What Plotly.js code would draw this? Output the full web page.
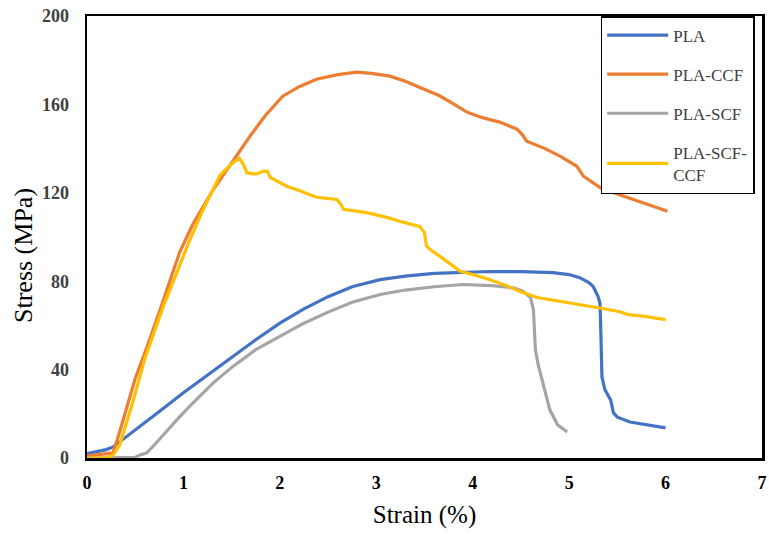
<!DOCTYPE html>
<html>
<head>
<meta charset="utf-8">
<script src="https://cdn.plot.ly/plotly-3.0.1.min.js"></script>
<style>html,body{margin:0;padding:0;background:#fff;}#chart{width:769px;height:534px;}</style>
</head>
<body>
<div id="chart"></div>
<script>
// ---- data (strain %, stress MPa) ----
const seriesNames = ["PLA", "PLA-CCF", "PLA-SCF", "PLA-SCF-<br>CCF"];
const seriesColors = ["#4472C4", "#ED7D31", "#A5A5A5", "#FFC000"];

const plaX = [0, 0.1, 0.2, 0.27, 0.5, 0.75, 1.0, 1.25, 1.5, 1.75, 2.0, 2.25, 2.5, 2.75, 3.04, 3.3, 3.6, 3.9, 4.18, 4.5, 4.83, 5.0, 5.11, 5.2, 5.25, 5.3, 5.32, 5.33, 5.34, 5.37, 5.43, 5.46, 5.5, 5.63, 5.8, 6.0];
const plaY = [2, 2.8, 3.8, 5, 12.5, 21, 29.5, 37.5, 45.5, 53.5, 61, 67.5, 73, 77.5, 80.7, 82.3, 83.5, 84, 84.4, 84.3, 83.9, 83, 81.6, 79.5, 77.6, 73, 70, 55, 36.7, 31, 26.3, 20.4, 18.5, 16.3, 15, 13.6];

const ccfX = [0, 0.1, 0.2, 0.27, 0.34, 0.41, 0.5, 0.62, 0.75, 0.96, 1.1, 1.31, 1.52, 1.69, 1.85, 2.03, 2.2, 2.38, 2.6, 2.8, 2.95, 3.14, 3.3, 3.49, 3.65, 3.77, 3.94, 4.1, 4.28, 4.46, 4.52, 4.56, 4.75, 4.91, 5.08, 5.15, 5.32, 5.5, 5.66, 5.85, 6.02];
const ccfY = [1, 1.5, 2, 2.3, 12, 23, 36, 50, 66, 93, 106, 121.5, 135, 145.6, 155, 163.7, 168, 171.4, 173.5, 174.6, 174, 172.8, 170.5, 166.9, 164, 161, 156.5, 154, 152, 148.8, 146, 143.3, 140, 136.5, 132, 127.4, 122.4, 119.5, 117, 114, 111.6];

const scfX = [0, 0.3, 0.5, 0.55, 0.62, 0.7, 0.8, 0.96, 1.1, 1.31, 1.5, 1.75, 2.0, 2.25, 2.5, 2.75, 3.04, 3.3, 3.6, 3.9, 4.2, 4.42, 4.52, 4.6, 4.63, 4.65, 4.68, 4.73, 4.8, 4.88, 4.98];
const scfY = [0, 0, 0.3, 1.4, 2.3, 6, 11, 18.6, 25, 34, 41, 49, 55, 61, 66, 70.5, 74, 76, 77.5, 78.5, 78, 77, 75.5, 72.6, 67, 49, 42, 34, 21.8, 15, 11.8];

const hybX = [0, 0.2, 0.27, 0.34, 0.48, 0.6, 0.79, 0.95, 1.07, 1.2, 1.31, 1.38, 1.45, 1.52, 1.58, 1.62, 1.66, 1.75, 1.83, 1.87, 1.9, 2.07, 2.2, 2.38, 2.59, 2.63, 2.66, 2.9, 3.1, 3.25, 3.45, 3.5, 3.52, 3.56, 3.7, 3.87, 4.0, 4.18, 4.35, 4.49, 4.67, 4.9, 5.11, 5.3, 5.53, 5.6, 5.8, 6.0];
const hybY = [0, 0, 1.4, 6, 26, 45, 68.5, 86, 99, 112, 121.5, 128, 131, 133.8, 135.6, 133, 129, 128.5, 129.7, 129.7, 127, 123, 121, 118, 117, 115, 112.5, 111, 109, 107, 104.8, 102, 96, 94.3, 90, 84.5, 83, 80.7, 78, 75.3, 72.6, 71, 69.4, 68, 66.2, 65, 64, 62.6];

const xTicks = [0, 1, 2, 3, 4, 5, 6, 7];
const yTicks = [0, 40, 80, 120, 160, 200];
const xTitle = "Strain (%)";
const yTitle = "Stress (MPa)";

const xs = [plaX, ccfX, scfX, hybX];
const ys = [plaY, ccfY, scfY, hybY];

const traces = seriesNames.map((n, i) => ({
  type: "scatter", mode: "lines", name: n,
  x: xs[i], y: ys[i],
  legendgroup: "g" + i,
  line: {color: seriesColors[i], width: 3.2, shape: "linear"},
  hoverinfo: "skip"
}));

const serif = "Liberation Serif, Times New Roman, serif";

const layout = {
  width: 769, height: 534,
  margin: {l: 87, r: 7, t: 16, b: 76},
  paper_bgcolor: "#fff", plot_bgcolor: "#fff",
  showlegend: true,
  legend: {
    x: 0.761, y: 1.0, xanchor: "left", yanchor: "top",
    bgcolor: "#fff", bordercolor: "#000", borderwidth: 1.5,
    font: {family: serif, size: 17, color: "#404040"},
    traceorder: "grouped", tracegroupgap: 14,
    itemwidth: 61
  },
  xaxis: {
    range: [0, 7], tickvals: xTicks, ticktext: xTicks.map(String),
    showgrid: false, zeroline: false,
    showline: true, mirror: true, linecolor: "#000", linewidth: 2.5,
    ticks: "", ticklabelstandoff: 7,
    tickfont: {family: serif, size: 18, color: "#000", weight: "bold"},
    title: {text: xTitle, font: {family: serif, size: 25, color: "#000"}, standoff: 14}
  },
  yaxis: {
    range: [0, 200], tickvals: yTicks, ticktext: yTicks.map(String),
    showgrid: false, zeroline: false,
    showline: true, mirror: true, linecolor: "#000", linewidth: 2.5,
    ticks: "", ticklabelstandoff: 12,
    tickfont: {family: serif, size: 18, color: "#404040", weight: "bold"}
  },
  annotations: [{
    text: yTitle, xref: "paper", yref: "paper",
    x: -0.095, y: 0.459, xanchor: "center", yanchor: "middle",
    textangle: -90, showarrow: false,
    font: {family: serif, size: 26, color: "#000"}
  }]
};

Plotly.newPlot("chart", traces, layout, {staticPlot: true, displayModeBar: false});
</script>
</body>
</html>
